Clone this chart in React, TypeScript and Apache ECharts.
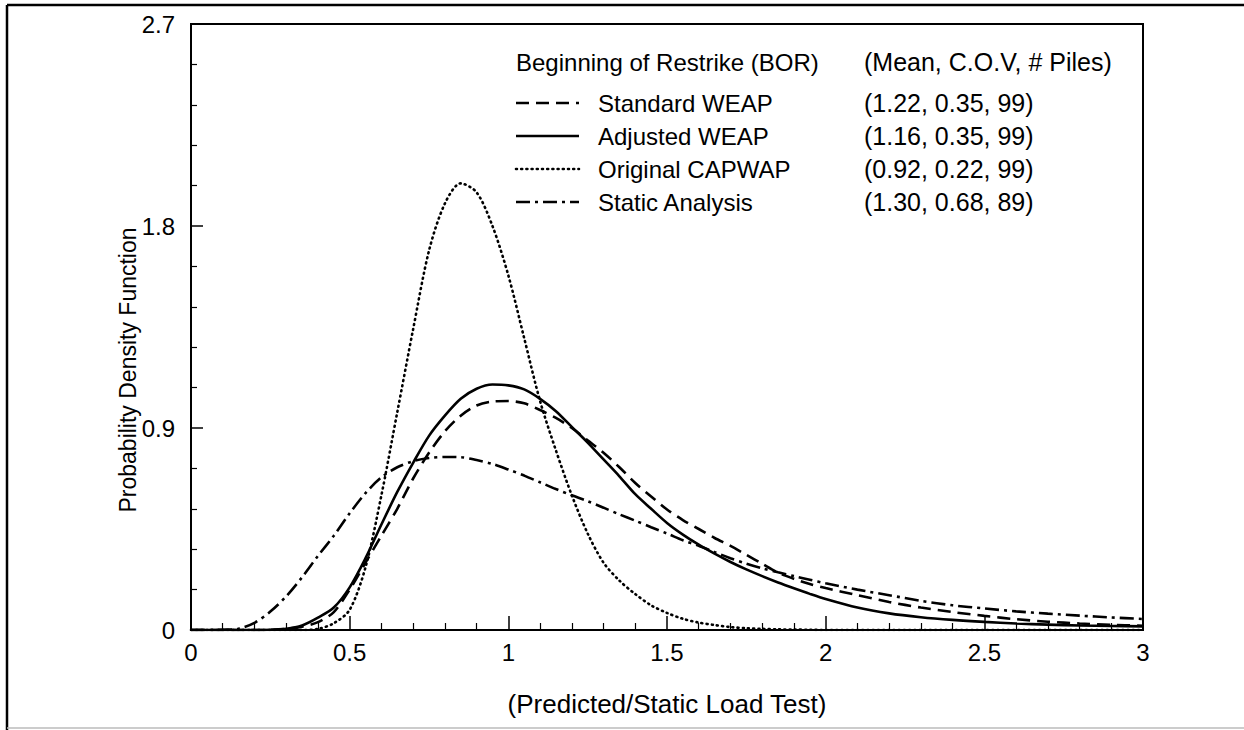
import React, { useEffect, useRef } from "react";
import * as echarts from "echarts";

const xValues = [
  0, 0.05, 0.1, 0.15, 0.2, 0.25, 0.3, 0.35, 0.4, 0.45, 0.5, 0.55, 0.6, 0.65, 0.7, 0.75, 0.8, 0.85, 0.9, 0.95,
  1.0, 1.05, 1.1, 1.15, 1.2, 1.25, 1.3, 1.35, 1.4, 1.45, 1.5, 1.55, 1.6, 1.65, 1.7, 1.75, 1.8, 1.85, 1.9, 1.95,
  2.0, 2.1, 2.2, 2.3, 2.4, 2.5, 2.6, 2.7, 2.8, 2.9, 3.0,
];

const standardWeap = [
  0, 0, 0, 0, 0, 0.001, 0.005, 0.015, 0.035, 0.08, 0.18, 0.3, 0.42, 0.54, 0.675, 0.79, 0.885, 0.955, 1.0, 1.018,
  1.02, 1.01, 0.98, 0.945, 0.9, 0.845, 0.79, 0.725, 0.655, 0.595, 0.537, 0.49, 0.45, 0.41, 0.375, 0.335, 0.295, 0.255, 0.228, 0.205,
  0.187, 0.155, 0.125, 0.1, 0.08, 0.063, 0.048, 0.037, 0.029, 0.023, 0.019,
];

const adjustedWeap = [
  0, 0, 0, 0, 0, 0.001, 0.005, 0.02, 0.055, 0.1, 0.19, 0.32, 0.47, 0.615, 0.745, 0.865, 0.955, 1.03, 1.075, 1.094,
  1.09, 1.072, 1.03, 0.975, 0.905, 0.835, 0.76, 0.685, 0.605, 0.54, 0.477, 0.425, 0.38, 0.34, 0.303, 0.27, 0.24, 0.212, 0.186, 0.161,
  0.138, 0.1, 0.074, 0.057, 0.045, 0.036, 0.029, 0.024, 0.02, 0.018, 0.016,
];

const originalCapwap = [
  0, 0, 0, 0, 0, 0, 0, 0, 0.005, 0.03, 0.09, 0.28, 0.6, 0.97, 1.34, 1.69, 1.9, 1.99, 1.95, 1.8,
  1.58, 1.3, 1.02, 0.8, 0.6, 0.43, 0.3, 0.22, 0.16, 0.11, 0.076, 0.05, 0.033, 0.022, 0.013, 0.008, 0.005, 0.003, 0.002, 0.001,
  0, 0, 0, 0, 0, 0, 0, 0, 0, 0, 0,
];

const staticAnalysis = [
  0, 0, 0.001, 0.006, 0.032, 0.082, 0.15, 0.235, 0.33, 0.42, 0.52, 0.61, 0.68, 0.725, 0.752, 0.766, 0.771, 0.77, 0.757, 0.74,
  0.715, 0.688, 0.658, 0.628, 0.6, 0.574, 0.545, 0.515, 0.487, 0.458, 0.43, 0.4, 0.375, 0.347, 0.32, 0.296, 0.275, 0.257, 0.24, 0.224,
  0.208, 0.18, 0.155, 0.13, 0.11, 0.096, 0.083, 0.073, 0.064, 0.056, 0.049,
];

const legendTitle = "Beginning of Restrike (BOR)";
const statsTitle = "(Mean, C.O.V, # Piles)";
const seriesNames = ["Standard WEAP", "Adjusted WEAP", "Original CAPWAP", "Static Analysis"];
const seriesStats = ["(1.22, 0.35, 99)", "(1.16, 0.35, 99)", "(0.92, 0.22, 99)", "(1.30, 0.68, 89)"];
const yTitle = "Probability Density Function";
const xTitle = "(Predicted/Static Load Test)";

const FONT = "'Liberation Sans', Arial, Helvetica, sans-serif";
const dashStyles: any[] = [[13, 7], "solid", [1, 4.2], [14, 5, 3, 5]];
const caps = ["butt", "butt", "round", "butt"];
const widths = [2.6, 2.6, 2.6, 2.6];

export default function App() {
  const ref = useRef<HTMLDivElement>(null);
  useEffect(() => {
    if (!ref.current) return;
    const chart = echarts.init(ref.current, undefined, { renderer: "svg" });
    const allData = [standardWeap, adjustedWeap, originalCapwap, staticAnalysis];
    const series = allData.map((vals, i) => ({
      name: seriesNames[i],
      type: "line",
      data: xValues.map((x, j) => [x, vals[j]]),
      showSymbol: false,
      smooth: 0.3,
      clip: true,
      lineStyle: { color: "#000", width: widths[i], type: dashStyles[i], cap: caps[i] },
      z: 3,
    }));

    const legendX0 = 516;
    const legendX1 = 579;
    const textX = 598;
    const statX = 864;
    const headerY = 62;
    const rowY = [103, 136, 169, 202];
    const graphic: any[] = [
      { type: "line", shape: { x1: 7, y1: 5, x2: 7, y2: 730 }, style: { stroke: "#000", lineWidth: 2.5 } },
      { type: "line", shape: { x1: 7, y1: 5, x2: 1244, y2: 5 }, style: { stroke: "#000", lineWidth: 2.5 } },
      { type: "line", shape: { x1: 7, y1: 728, x2: 1244, y2: 728 }, style: { stroke: "#bbb", lineWidth: 1.5 } },
      {
        type: "text",
        x: 128,
        y: 370,
        rotation: Math.PI / 2,
        style: { text: yTitle, x: 0, y: 0, font: `23px ${FONT}`, fill: "#000", align: "center", verticalAlign: "middle" },
      },
      {
        type: "text",
        x: 667,
        y: 704,
        style: { text: xTitle, x: 0, y: 0, font: `26px ${FONT}`, fill: "#000", align: "center", verticalAlign: "middle" },
      },
      {
        type: "text",
        x: legendX0,
        y: headerY,
        style: { text: legendTitle, font: `24px ${FONT}`, fill: "#000", align: "left", verticalAlign: "middle" },
      },
      {
        type: "text",
        x: statX,
        y: headerY,
        style: { text: statsTitle, font: `25px ${FONT}`, fill: "#000", align: "left", verticalAlign: "middle" },
      },
    ];
    seriesNames.forEach((name, i) => {
      const ls: any = { stroke: "#000", lineWidth: widths[i], lineCap: caps[i] };
      if (Array.isArray(dashStyles[i])) ls.lineDash = dashStyles[i];
      graphic.push({ type: "line", shape: { x1: legendX0, y1: rowY[i], x2: legendX1, y2: rowY[i] }, style: ls });
      graphic.push({
        type: "text",
        x: textX,
        y: rowY[i],
        style: { text: name, font: `24px ${FONT}`, fill: "#000", align: "left", verticalAlign: "middle" },
      });
      graphic.push({
        type: "text",
        x: statX,
        y: rowY[i],
        style: { text: seriesStats[i], font: `25px ${FONT}`, fill: "#000", align: "left", verticalAlign: "middle" },
      });
    });

    chart.setOption({
      animation: false,
      backgroundColor: "#fff",
      grid: {
        left: 191,
        top: 24,
        width: 952,
        height: 606,
        show: true,
        borderColor: "#000",
        borderWidth: 2,
        backgroundColor: "transparent",
      },
      xAxis: {
        type: "value",
        min: 0,
        max: 3,
        interval: 0.5,
        axisLine: { show: true, onZero: false, lineStyle: { color: "#000", width: 2 } },
        axisTick: { show: true, inside: true, length: 14, lineStyle: { color: "#000", width: 1.5 } },
        minorTick: { show: true, splitNumber: 5, length: 7, lineStyle: { color: "#000", width: 1.2 } },
        splitLine: { show: false },
        axisLabel: { color: "#000", fontSize: 24, fontFamily: FONT, margin: 10 },
      },
      yAxis: {
        type: "value",
        min: 0,
        max: 2.7,
        interval: 0.9,
        axisLine: { show: true, lineStyle: { color: "#000", width: 2 } },
        axisTick: { show: true, inside: true, length: 12, lineStyle: { color: "#000", width: 1.5 } },
        minorTick: { show: true, splitNumber: 5, length: 6, lineStyle: { color: "#000", width: 1.2 } },
        splitLine: { show: false },
        axisLabel: { color: "#000", fontSize: 24, fontFamily: FONT, margin: 16 },
      },
      series,
      graphic,
    });
    return () => chart.dispose();
  }, []);
  return (
    <div
      ref={ref}
      style={{ position: "fixed", left: 0, top: 0, width: 1244, height: 730, background: "#fff" }}
    />
  );
}
